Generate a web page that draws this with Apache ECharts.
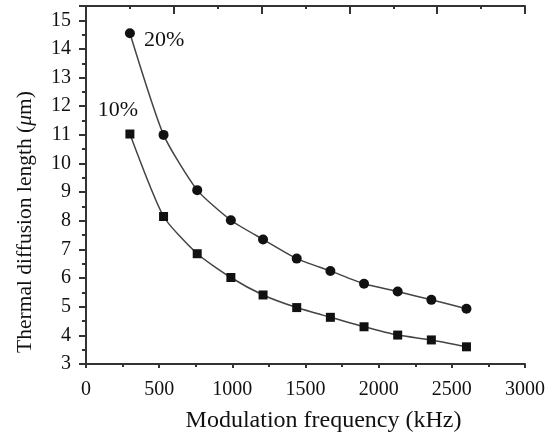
<!DOCTYPE html>
<html>
<head>
<meta charset="utf-8">
<script src="https://cdn.jsdelivr.net/npm/echarts@6/dist/echarts.min.js"></script>
<style>
  html, body { margin: 0; padding: 0; background: #fff; }
  #chart { width: 554px; height: 440px; }
</style>
</head>
<body>
<div id="chart"></div>
<script>
  // modulation frequency (kHz)
  var freq = [300, 530, 760, 990, 1210, 1440, 1670, 1900, 2130, 2360, 2600];
  // thermal diffusion length (um)
  var len20 = [14.55, 11.0, 9.07, 8.02, 7.35, 6.68, 6.25, 5.8, 5.53, 5.24, 4.93];
  var len10 = [11.03, 8.15, 6.85, 6.02, 5.41, 4.97, 4.63, 4.3, 4.01, 3.84, 3.6];
  var seriesNames = ['20%', '10%'];
  var xTicks = [0, 500, 1000, 1500, 2000, 2500, 3000];

  function pairs(xs, ys) {
    return xs.map(function (x, i) { return [x, ys[i]]; });
  }

  var serif = '"Liberation Serif", "DejaVu Serif", serif';
  var axisColor = '#333';

  var myChart = echarts.init(document.getElementById('chart'));
  myChart.setOption({
    backgroundColor: '#fff',
    animation: false,
    grid: { left: 86, right: 29, top: 6, bottom: 76 },
    xAxis: [{
      type: 'value',
      position: 'bottom',
      min: xTicks[0],
      max: xTicks[xTicks.length - 1],
      interval: 500,
      name: 'Modulation frequency (kHz)',
      nameLocation: 'middle',
      nameGap: 45,
      nameTextStyle: { fontFamily: serif, fontSize: 24, color: '#111', padding: [0, 0, 0, 36] },
      axisLine: { lineStyle: { color: axisColor, width: 2 } },
      axisTick: { length: 4, lineStyle: { color: axisColor, width: 2 } },
      minorTick: { show: true, splitNumber: 2, length: 3, lineStyle: { color: axisColor, width: 2 } },
      splitLine: { show: false },
      axisLabel: {
        margin: 16, fontFamily: serif, fontSize: 20, color: '#111',
        formatter: function (v) { return String(v); }
      }
    }, {
      type: 'value',
      position: 'top',
      min: 0,
      max: 3000,
      interval: 600,
      axisLine: { lineStyle: { color: axisColor, width: 2 } },
      axisTick: { inside: true, length: 8, lineStyle: { color: axisColor, width: 2 } },
      minorTick: { show: true, splitNumber: 2, length: 3, lineStyle: { color: axisColor, width: 2 } },
      splitLine: { show: false },
      axisLabel: { show: false }
    }],
    yAxis: [{
      type: 'value',
      position: 'left',
      min: 3,
      max: 15.5,
      interval: 1,
      name: '{n|Thermal diffusion length (}{i|μ}{n|m)}',
      nameLocation: 'middle',
      nameGap: 50,
      nameTextStyle: {
        padding: [0, 74, 0, 0],
        rich: {
          n: { fontFamily: serif, fontSize: 21.5, color: '#111' },
          i: { fontFamily: serif, fontSize: 21.5, fontStyle: 'italic', color: '#111' }
        }
      },
      axisLine: { lineStyle: { color: axisColor, width: 2 } },
      axisTick: { length: 7, lineStyle: { color: axisColor, width: 2 } },
      minorTick: { show: true, splitNumber: 2, length: 4, lineStyle: { color: axisColor, width: 2 } },
      splitLine: { show: false },
      axisLabel: { margin: 15, showMaxLabel: false, fontFamily: serif, fontSize: 20, color: '#111' }
    }, {
      type: 'value',
      position: 'right',
      min: 3,
      max: 15.5,
      interval: 2.5,
      axisLine: { show: true, lineStyle: { color: axisColor, width: 2 } },
      axisTick: { inside: true, length: 4, lineStyle: { color: axisColor, width: 2 } },
      splitLine: { show: false },
      axisLabel: { show: false }
    }],
    series: [{
      name: seriesNames[0],
      type: 'line',
      smooth: 0.2,
      symbol: 'circle',
      symbolSize: 10,
      itemStyle: { color: '#111' },
      lineStyle: { color: '#444', width: 1.5 },
      label: { show: false },
      data: pairs(freq, len20).map(function (p, i) {
        return i === 0 ? {
          value: p,
          label: {
            show: true, position: 'right', distance: 9, offset: [0, 7],
            formatter: seriesNames[0], fontFamily: serif, fontSize: 22, color: '#111'
          }
        } : p;
      })
    }, {
      name: seriesNames[1],
      type: 'line',
      smooth: 0.2,
      symbol: 'rect',
      symbolSize: 9,
      itemStyle: { color: '#111' },
      lineStyle: { color: '#444', width: 1.5 },
      label: { show: false },
      data: pairs(freq, len10).map(function (p, i) {
        return i === 0 ? {
          value: p,
          label: {
            show: true, position: 'top', distance: 8, offset: [-12, 0],
            formatter: seriesNames[1], fontFamily: serif, fontSize: 22, color: '#111'
          }
        } : p;
      })
    }]
  });
</script>
</body>
</html>
